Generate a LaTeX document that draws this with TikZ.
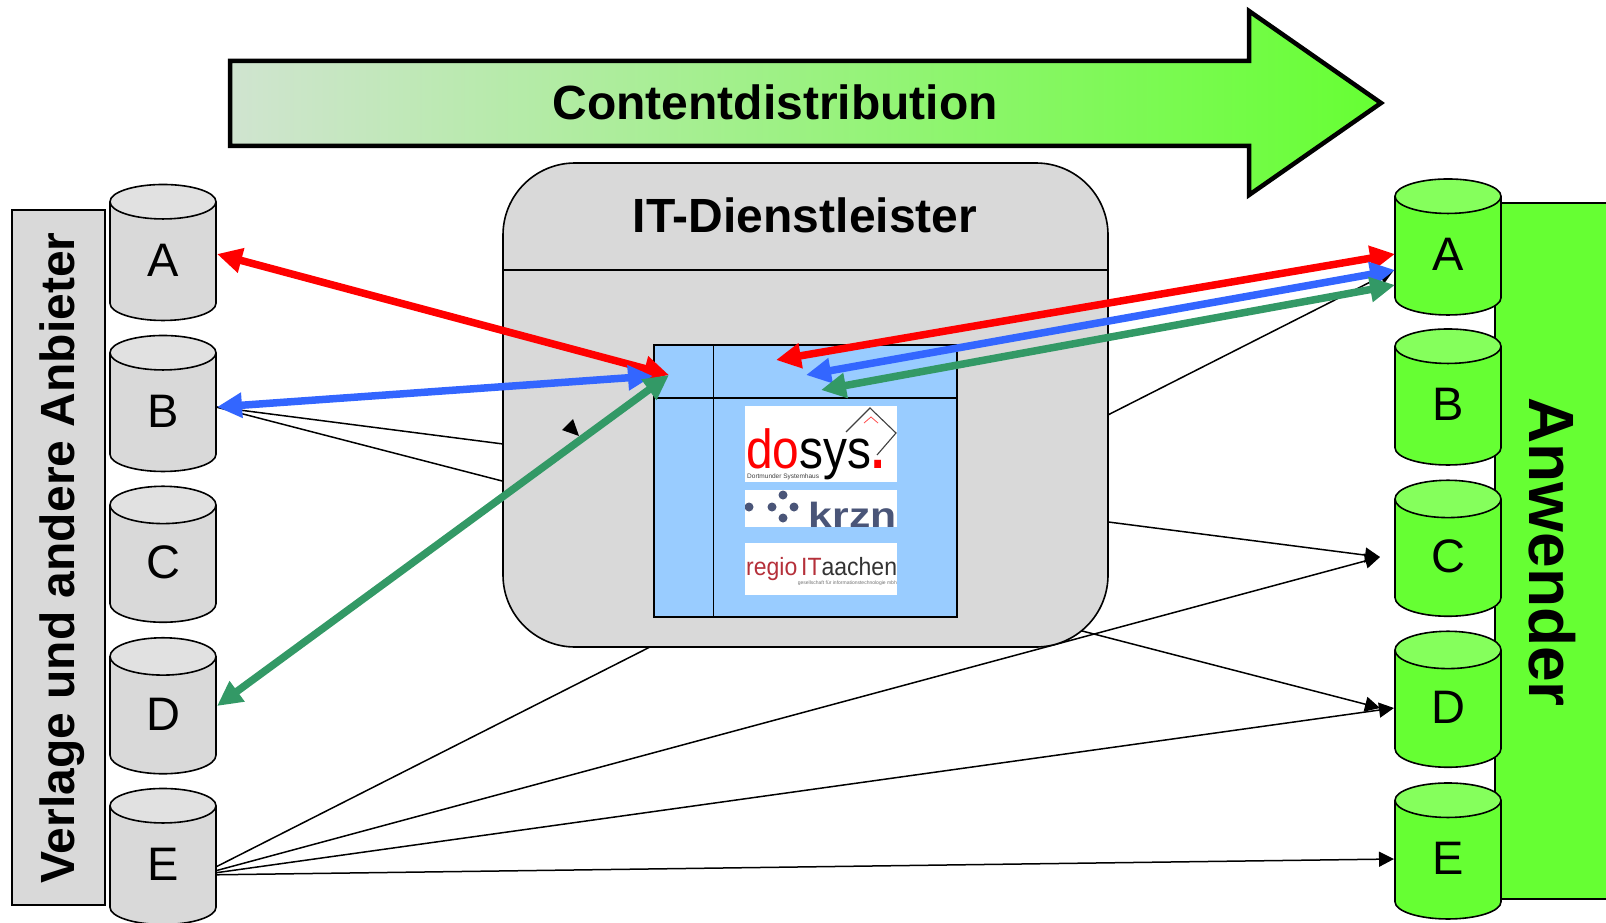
\documentclass[tikz,border=0pt]{standalone}
\usepackage{fontspec}
\setmainfont{Liberation Sans}
\usetikzlibrary{shapes.geometric,arrows.meta}
\definecolor{lgray}{HTML}{D9D9D9}
\definecolor{lgrayTop}{HTML}{E1E1E1}
\definecolor{lgreen}{HTML}{66FF33}
\definecolor{lgreenTop}{HTML}{85FF5C}
\definecolor{tblue}{HTML}{99CCFF}
\definecolor{aBlue}{HTML}{3366FF}
\definecolor{aGreen}{HTML}{339966}
\definecolor{krznC}{HTML}{4A5578}
\definecolor{regioC}{HTML}{B5303A}
\definecolor{arrowStart}{HTML}{D0E4D0}
\tikzset{
  cyl/.style={cylinder,shape border rotate=90,aspect=1.1,draw=black,line width=1.6pt,
     minimum width=106,minimum height=136,inner sep=0,outer sep=0,cylinder uses custom fill,
     font=\fontsize{47}{47}\selectfont,text=black},
  cylL/.style={cyl,cylinder body fill=lgray,cylinder end fill=lgrayTop},
  cylR/.style={cyl,cylinder body fill=lgreen,cylinder end fill=lgreenTop},
  thin link/.style={draw=black,line width=1.5pt},
  tip link/.style={thin link,-{Triangle[length=15,width=15]}},
  thick link/.style={line width=7.5pt,{Triangle[length=25,width=24,fill=#1]}-{Triangle[length=25,width=24,fill=#1]},draw=#1},
  logo/.style={fill=white,draw=none,inner sep=0,outer sep=0,anchor=north west,minimum width=152},
  boldtitle/.style={font=\bfseries\fontsize{48}{48}\selectfont,text=black,inner sep=0},
}
\begin{document}
\begin{tikzpicture}[x=1pt,y=-1pt]
\useasboundingbox (0,0) rectangle (1606,923);
% side bars
\node[draw=black,line width=1.6pt,fill=lgray,minimum width=93,minimum height=695,inner sep=0] (verlage) at (58.5,557.5) {};
\node[boldtitle,rotate=90] (verlageT) at (62,558) {Verlage und andere Anbieter};
\node[draw=black,line width=1.6pt,fill=lgreen,minimum width=130,minimum height=696,inner sep=0] (anwender) at (1560,551) {};
\node[boldtitle,rotate=-90,font=\bfseries\fontsize{64}{64}\selectfont] (anwenderT) at (1552.5,552) {Anwender};
% ports
\coordinate (tipAr) at (1394,270);
\coordinate (tipC) at (1380,557);
\coordinate (tipD1) at (1380,708);
\coordinate (tipD2) at (1394,708);
\coordinate (tipE) at (1394,859);
\coordinate (fromB) at (216,407);
\coordinate (fromE) at (200,875);
% thin connectors, passing behind the round box
\draw[tip link] (fromB) -- (tipC);
\draw[tip link] (fromB) -- (tipD1);
\draw[tip link] (fromE) -- (tipAr);
\draw[tip link] (fromE) -- (tipD2);
\draw[tip link] (fromE) -- (tipE);
\draw[tip link] (fromE) -- (tipC);
% round box
\node[draw=black,line width=1.6pt,fill=lgray,rounded corners=72,minimum width=605,minimum height=484,inner sep=0] (itbox) at (805.5,405) {};
\draw[line width=1.3pt] (itbox.west |- 0,270) coordinate (itL) -- (itbox.east |- 0,270) coordinate (itR);
\node[boldtitle] (itT) at (805,215) {IT-Dienstleister};
% stray arrowhead
\fill[black] (573,419) -- (562,430) -- (579,436) -- cycle;
% table
\node[draw=black,line width=1.6pt,fill=tblue,minimum width=303,minimum height=272,inner sep=0] (tbl) at (805.5,481) {};
\draw[line width=1.6pt] (713.5,345) -- (713.5,617);
\draw[line width=1.6pt] (654,398) -- (957,398);
% logos
\node[logo,minimum height=76] (dosys) at (745,406) {};
\node[anchor=base west,inner sep=0,font=\fontsize{55}{55}\selectfont,xscale=0.87,text depth=0pt] (dosysT) at (746,468)
   {\textcolor{red}{do}\textcolor{black}{sys}\textcolor{red}{\bfseries.}};
\node[anchor=west,inner sep=0,font=\fontsize{6.5}{7}\selectfont,text=black!75] (dosysS) at (747,477) {Dortmunder Systemhaus};
\draw[black!75,line width=1.1pt] (846,432) -- (870,408) -- (896,433) -- (877,455);
\draw[red!70,line width=.8pt] (864,423) -- (871,417) -- (878,423);
\node[logo,minimum height=37] (krzn) at (745,490) {};
\begin{scope}
\clip (745,490) rectangle (897,527);
\foreach \px/\py in {749/507, 772/507, 783/495, 783/518, 794/507} \fill[krznC] (\px,\py) circle (4.5);
\end{scope}
\node[anchor=base east,inner sep=0,font=\bfseries\fontsize{35}{35}\selectfont,text=krznC,xscale=1.22] (krznT) at (897,527) {krzn};
\node[logo,minimum height=52] (regio) at (745,543) {};
\node[anchor=base west,inner sep=0,font=\fontsize{25}{25}\selectfont] (regioT) at (746,575)
   {\scalebox{.92}[1]{\textcolor{regioC}{regio\,IT}\textcolor{black!80}{aachen}}};
\node[anchor=east,inner sep=0,font=\fontsize{5}{6}\selectfont,text=black!55] (regioS) at (897,583) {gesellschaft für informationstechnologie mbh};
% big arrow
\draw[left color=arrowStart,right color=lgreen,draw=black,line width=4.5pt,miter limit=10]
  (230,61) -- (1249,61) -- (1249,11) -- (1381,103) -- (1249,195) -- (1249,146) -- (230,146) -- cycle;
\node[boldtitle] (contT) at (775,102) {Contentdistribution};
% cylinders
\foreach \n/\yc in {A/261.5,B/412.5,C/564,D/715.5,E/865.5}
  \node[cylL] (l\n) at (163,\yc) {\raisebox{3pt}{\n}};
\foreach \n/\yc in {A/256,B/406,C/558,D/709,E/860}
  \node[cylR] (r\n) at (1448,\yc) {\raisebox{3pt}{\n}};
% ports on nodes
\coordinate (pLA) at (217,254);
\coordinate (pLB) at (217,407);
\coordinate (pLD) at (217,706);
\coordinate (pRA1) at (1395,254);
\coordinate (pRA2) at (1395,270);
\coordinate (pRA3) at (1395,285);
\coordinate (tA) at (669,375);
\coordinate (tB) at (653,376);
\coordinate (tD) at (669,375);
\coordinate (tR1) at (776,360);
\coordinate (tR2) at (806,375);
\coordinate (tR3) at (821,390);
% thick connectors
\draw[thick link=red] (pLA) -- (tA);
\draw[thick link=aBlue] (pLB) -- (tB);
\draw[thick link=aGreen] (pLD) -- (tD);
\draw[thick link=red] (pRA1) -- (tR1);
\draw[thick link=aBlue] (pRA2) -- (tR2);
\draw[thick link=aGreen] (pRA3) -- (tR3);
\end{tikzpicture}
\end{document}
